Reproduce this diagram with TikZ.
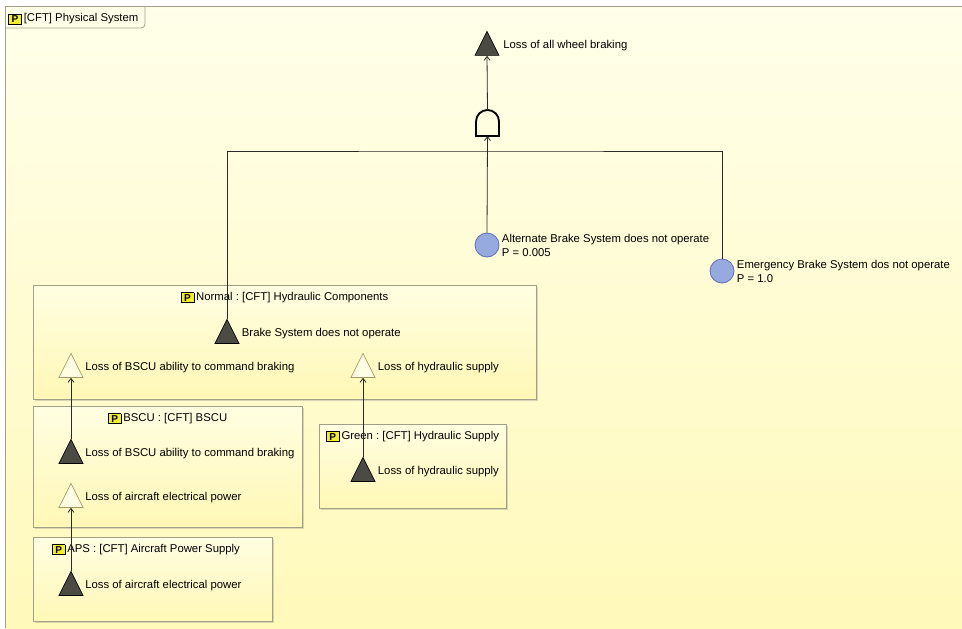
\documentclass[tikz,border=0pt]{standalone}
\usepackage{fontspec}
\setmainfont{Liberation Sans}
\usetikzlibrary{arrows.meta,positioning,shapes,shadows}

\definecolor{bgtop}{HTML}{FFFFEA}
\definecolor{bgbot}{HTML}{FFF9BA}
\definecolor{boxtop}{HTML}{FFFEE2}
\definecolor{boxbot}{HTML}{FFF8B6}
\definecolor{boxline}{HTML}{A3A08A}
\definecolor{evdark}{HTML}{4B4B44}
\definecolor{portline}{HTML}{A39A62}
\definecolor{portfill}{HTML}{FFFDE3}
\definecolor{basicfill}{HTML}{96AADF}
\definecolor{basicline}{HTML}{5F6FB5}
\definecolor{iconyel}{HTML}{F2EE2A}
\definecolor{wireblk}{HTML}{2A2A26}

\newcommand{\picon}{{\setlength{\fboxsep}{0.8pt}\setlength{\fboxrule}{0.55pt}%
  \raisebox{-0.5pt}{\fcolorbox{black}{iconyel}{\fontsize{7.5}{7.5}\selectfont\bfseries\,P\,}}}}

\begin{document}
\begin{tikzpicture}[
  x=0.75pt, y=-0.75pt,
  lbl/.style={font=\fontsize{8.5}{10.5}\selectfont\frenchspacing, inner sep=0pt, align=left},
  evlbl/.style={lbl, yshift=1.5pt},
  topev/.style={isosceles triangle, isosceles triangle apex angle=53.13,
    shape border rotate=90, minimum width=18pt, minimum height=18pt,
    inner sep=0pt, draw=black, line width=0.5pt, fill=evdark},
  inport/.style={topev, draw=portline, fill=portfill},
  basicev/.style={circle, minimum size=18pt, inner sep=0pt, draw=basicline,
    line width=0.6pt, fill=basicfill},
  gatebox/.style={minimum width=17.25pt, minimum height=19.5pt, inner sep=0pt, outer sep=0pt},
  cftbox/.style={draw=boxline, line width=0.6pt, top color=boxtop, bottom color=boxbot,
    drop shadow={shadow xshift=1.5pt, shadow yshift=-1.5pt, opacity=0.3, fill=gray},
    inner sep=0pt},
  wire/.style={draw=wireblk, line width=0.6pt},
  arrow/.style={wire, -{Straight Barb[length=3pt,width=4.5pt]}}
]
\useasboundingbox (0,0) rectangle (962,628);

% 背景
\fill[top color=bgtop, bottom color=bgbot] (5,6) rectangle (962,628);
\draw[boxline, line width=0.6pt] (962,6) -- (5,6) -- (5,628);
\draw[boxline, line width=0.6pt, rounded corners=3pt] (145,6) -- (145,28) -- (5,28);
\node[lbl, anchor=west] (frametitle) at (8,19) {\picon\,[CFT] Physical System};

% 枠
\node[cftbox, minimum width=377.25pt, minimum height=85.5pt] (normal) at (284.5,342) {};
\node[cftbox, minimum width=201.75pt, minimum height=90.75pt] (bscu) at (167.5,466.5) {};
\node[cftbox, minimum width=140.25pt, minimum height=63pt] (green) at (412.5,466) {};
\node[cftbox, minimum width=179.25pt, minimum height=63pt] (aps) at (152.5,579) {};

\node[lbl, below=5.5pt of normal.north] (normalt) {\picon\,Normal : [CFT] Hydraulic Components};
\node[lbl, below=5.5pt of bscu.north] (bscut) {\picon\,BSCU : [CFT] BSCU};
\node[lbl, below=5.5pt of green.north] (greent) {\picon\,Green : [CFT] Hydraulic Supply};
\node[lbl, below=5.5pt of aps.north, xshift=-5pt] (apst) {\picon\,APS : [CFT] Aircraft Power Supply};

% 頂上事象とゲート
\node[topev] (top) at (487,48) {};
\node[evlbl, right=12pt of top.center] {Loss of all wheel braking};
\node[gatebox] (gate) at (487.5,123) {};
\draw[draw=black, line width=1.4pt] (gate.south west) -- (gate.south east) -- ++(0,10.9pt)
  arc[start angle=0, end angle=180, radius=8.625pt] -- cycle;

% 基本事象
\node[basicev] (alt) at (487,245) {};
\node[lbl, right=11pt of alt.center] {Alternate Brake System does not operate\\P = 0.005};
\node[basicev] (emerg) at (722,271) {};
\node[lbl, right=11pt of emerg.center] {Emergency Brake System dos not operate\\P = 1.0};

% Normal
\node[topev] (brake) at (227,336) {};
\node[evlbl, right=11pt of brake.center] {Brake System does not operate};
\node[inport] (inbscu) at (71,370) {};
\node[evlbl, right=10.5pt of inbscu.center] {Loss of BSCU ability to command braking};
\node[inport] (inhyd) at (363,370) {};
\node[evlbl, right=11pt of inhyd.center] {Loss of hydraulic supply};

% BSCU
\node[topev] (bscuout) at (71,456) {};
\node[evlbl, right=10.5pt of bscuout.center] {Loss of BSCU ability to command braking};
\node[inport] (inpower) at (71,500) {};
\node[evlbl, right=10.5pt of inpower.center] {Loss of aircraft electrical power};

% Green
\node[topev] (hydout) at (363,474) {};
\node[evlbl, right=11pt of hydout.center] {Loss of hydraulic supply};

% APS
\node[topev] (apsout) at (71,588) {};
\node[evlbl, right=10.5pt of apsout.center] {Loss of aircraft electrical power};

% 接続
\coordinate (jn) at (487,151);
\draw[arrow] (gate.north) -- (top.south);
\draw[arrow] (alt.north) -- (gate.south);
\draw[wire] (brake.north) |- (jn) -| (emerg.north);
\draw[arrow] (bscuout.north) -- (inbscu.south);
\draw[arrow] (hydout.north) -- (inhyd.south);
\draw[arrow] (apsout.north) -- (inpower.south);

\end{tikzpicture}
\end{document}
